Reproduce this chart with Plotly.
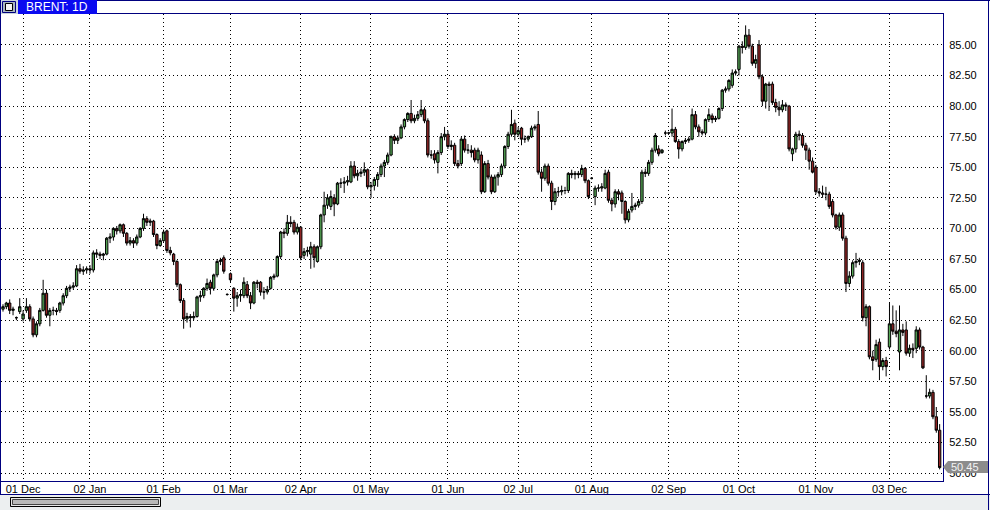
import pandas as pd
import plotly.graph_objects as go

# ---------------- data ----------------
HOLIDAYS = ["2017-12-25", "2018-01-01", "2018-03-30"]
EXTRA_SESSIONS = ["2018-09-02"]

OPEN = [63.4, 63.6, 63.9, 63.3, 62.7, 63.2, 62.6, 63.3, 63.6, 62.6,
        61.3, 62.2, 63.3, 64.7, 62.9, 63.3, 63.3, 63.3, 63.9, 64.5,
        65.1, 65.2, 65.3, 66.7, 66.5, 66.6, 66.7, 66.6, 68.0, 67.9,
        67.8, 67.9, 69.2, 69.3, 70.0, 69.8, 70.3, 69.6, 68.8, 69.0,
        68.8, 69.3, 70.0, 70.8, 70.5, 70.6, 69.5, 68.6, 69.0, 69.8,
        68.2, 67.9, 67.3, 65.4, 64.1, 62.6, 62.8, 62.7, 62.8, 64.4,
        64.5, 65.1, 65.6, 65.1, 66.2, 67.3, 67.6, 64.6, 66.3, 65.1,
        64.3, 64.5, 64.5, 65.4, 64.5, 63.9, 65.6, 65.6, 64.8, 64.8,
        65.1, 66.0, 66.1, 67.7, 69.7, 69.6, 70.5, 70.5, 69.7, 70.1,
        67.8, 68.1, 67.9, 68.5, 67.3, 68.5, 71.1, 71.9, 71.8, 72.5,
        72.0, 73.7, 73.7, 73.8, 73.8, 75.1, 74.3, 74.5, 74.6, 74.8,
        73.4, 73.5, 74.0, 74.4, 75.1, 75.4, 76.0, 77.5, 77.2, 77.4,
        78.3, 78.9, 79.4, 78.8, 79.0, 79.3, 79.7, 78.8, 76.0, 76.1,
        75.4, 76.2, 77.5, 77.7, 76.7, 76.8, 75.3, 75.3, 77.3, 76.4,
        76.4, 76.4, 75.6, 76.0, 73.0, 75.3, 74.2, 73.0, 74.2, 74.4,
        75.1, 76.7, 77.7, 78.6, 77.7, 78.2, 77.3, 77.3, 77.5, 78.2,
        78.5, 74.6, 74.1, 75.1, 73.7, 72.2, 73.0, 73.0, 73.1, 73.1,
        74.5, 74.4, 74.5, 74.4, 74.9, 73.9, 74.1, 72.6, 73.3, 73.3,
        73.3, 74.6, 72.3, 72.0, 73.0, 72.9, 72.2, 70.7, 71.5, 71.8,
        71.9, 72.2, 74.6, 74.5, 75.4, 76.4, 76.5, 76.2, 77.8, 77.8,
        77.8, 78.1, 77.1, 76.5, 77.1, 77.2, 77.3, 79.3, 78.3, 77.9,
        77.8, 78.9, 79.2, 78.9, 79.0, 79.8, 81.3, 81.4, 81.7, 82.7,
        83.0, 84.9, 84.8, 85.8, 84.9, 83.5, 85.0, 82.4, 80.4, 81.8,
        81.8, 80.3, 79.9, 79.7, 80.1, 80.0, 76.1, 76.5, 77.7, 77.6,
        76.8, 76.4, 75.5, 75.0, 73.0, 72.9, 72.8, 72.8, 72.2, 71.1,
        70.1, 71.1, 69.2, 65.5, 66.1, 67.2, 67.3, 67.2, 62.7, 63.6,
        59.5, 59.3, 60.7, 58.7, 59.2, 60.3, 62.2, 61.6, 59.9, 61.7,
        61.7, 59.8, 60.2, 60.2, 61.7, 60.3, 56.3, 56.3, 56.6, 54.6,
        53.5]

HIGH = [63.8, 64.0, 64.2, 63.6, 62.8, 64.3, 63.3, 64.3, 63.8, 62.8,
        62.4, 63.5, 65.8, 65.0, 63.5, 63.6, 63.5, 64.0, 64.7, 65.3,
        65.4, 65.6, 67.0, 67.1, 66.9, 66.9, 67.0, 68.2, 68.3, 68.1,
        68.0, 69.3, 69.6, 70.1, 70.2, 70.4, 70.4, 69.7, 69.3, 69.2,
        69.5, 70.1, 71.2, 71.0, 70.8, 70.7, 69.6, 69.2, 69.9, 69.9,
        68.5, 68.0, 67.4, 65.5, 64.3, 63.1, 63.0, 63.2, 64.5, 64.9,
        65.2, 65.9, 65.8, 66.3, 67.5, 67.6, 67.8, 64.7, 66.4, 65.2,
        64.8, 65.0, 66.0, 65.7, 64.8, 65.7, 65.8, 65.7, 65.2, 65.3,
        66.1, 66.3, 67.8, 69.8, 70.0, 71.1, 71.0, 70.7, 70.4, 70.2,
        68.4, 68.5, 68.9, 68.7, 68.6, 71.2, 73.0, 72.8, 73.1, 72.8,
        73.8, 74.1, 74.2, 74.3, 75.5, 75.5, 74.8, 74.9, 75.4, 74.9,
        73.8, 74.2, 74.6, 75.3, 75.6, 76.2, 77.6, 77.7, 77.6, 78.5,
        79.0, 79.5, 80.5, 79.3, 79.6, 80.5, 79.9, 79.0, 76.4, 76.4,
        76.4, 77.8, 78.3, 78.0, 77.2, 77.0, 75.6, 77.5, 77.6, 76.9,
        76.8, 76.6, 76.6, 76.3, 75.5, 75.6, 74.4, 74.4, 74.6, 75.3,
        76.8, 77.9, 79.7, 78.9, 78.3, 78.3, 77.6, 77.6, 78.4, 78.5,
        79.6, 74.9, 75.3, 75.3, 73.9, 73.3, 73.4, 73.5, 73.4, 74.6,
        74.8, 74.7, 74.7, 75.2, 75.0, 74.0, 74.2, 73.5, 73.6, 73.7,
        74.8, 74.8, 72.5, 73.2, 73.2, 73.1, 72.3, 71.6, 72.9, 72.1,
        72.4, 74.8, 74.9, 75.6, 76.6, 77.8, 76.8, 76.5, 78.0, 77.9,
        79.8, 78.3, 77.3, 77.2, 77.4, 77.5, 79.8, 79.6, 78.5, 78.1,
        79.0, 79.8, 79.4, 79.2, 79.9, 81.4, 81.6, 82.2, 83.0, 83.0,
        85.0, 85.3, 86.6, 86.3, 85.1, 84.2, 85.4, 82.6, 81.9, 82.0,
        82.0, 80.6, 80.4, 80.5, 80.3, 80.1, 76.6, 77.9, 78.0, 77.8,
        77.0, 76.6, 75.8, 75.2, 73.3, 73.5, 73.4, 73.0, 72.4, 71.2,
        71.3, 71.3, 69.4, 66.5, 67.4, 68.0, 67.6, 67.4, 63.8, 63.7,
        60.0, 60.9, 61.0, 59.4, 59.5, 63.9, 63.7, 63.3, 63.7, 62.2,
        62.4, 60.5, 60.6, 62.0, 61.9, 60.4, 58.0, 56.9, 56.8, 55.4,
        54.0]

LOW = [63.2, 63.4, 63.0, 62.9, 62.5, 63.0, 62.4, 63.1, 62.4, 61.1,
       61.1, 62.0, 63.2, 62.7, 62.0, 62.9, 62.9, 63.1, 63.7, 64.3,
       64.8, 65.0, 65.2, 66.3, 66.2, 66.3, 66.3, 66.4, 67.6, 67.5,
       67.4, 67.8, 68.8, 69.0, 69.5, 69.6, 69.3, 68.6, 68.6, 68.4,
       68.6, 69.2, 69.8, 70.2, 70.2, 69.3, 68.3, 68.5, 68.9, 68.0,
       67.8, 67.0, 65.2, 63.9, 61.8, 62.3, 61.9, 62.5, 62.7, 64.0,
       64.3, 64.9, 64.6, 64.9, 66.0, 67.0, 66.3, 64.5, 65.6, 63.2,
       63.6, 64.0, 64.3, 64.3, 63.4, 63.8, 65.1, 64.5, 64.2, 64.6,
       65.0, 65.8, 66.0, 67.5, 69.2, 69.4, 70.1, 69.5, 69.5, 67.4,
       67.5, 67.7, 66.7, 66.8, 67.2, 68.3, 70.5, 71.6, 71.5, 71.0,
       71.9, 73.3, 72.9, 73.5, 73.7, 74.1, 73.9, 74.2, 74.3, 73.2,
       72.5, 73.1, 73.4, 74.2, 74.2, 75.2, 75.9, 76.9, 76.9, 77.3,
       78.1, 78.7, 78.6, 78.6, 78.8, 79.1, 78.6, 75.8, 75.7, 75.3,
       74.5, 76.0, 77.2, 76.5, 76.4, 75.1, 74.9, 75.1, 76.2, 76.1,
       75.8, 75.4, 75.3, 72.8, 72.9, 74.0, 72.8, 72.9, 73.5, 74.2,
       74.9, 76.5, 77.5, 77.2, 77.5, 76.8, 77.0, 77.1, 77.4, 78.0,
       74.4, 73.0, 73.9, 73.5, 71.5, 71.9, 72.6, 72.7, 72.8, 72.9,
       74.1, 74.0, 74.1, 74.2, 73.7, 72.4, 74.0, 71.9, 73.0, 73.0,
       73.2, 72.1, 71.4, 71.7, 72.3, 71.2, 70.4, 70.5, 71.3, 71.5,
       71.7, 72.0, 74.2, 74.3, 75.2, 76.2, 75.9, 76.1, 77.6, 77.7,
       77.5, 77.0, 75.7, 76.3, 76.9, 77.0, 77.2, 78.1, 77.5, 77.6,
       77.6, 78.7, 78.6, 78.7, 78.9, 79.6, 81.1, 81.2, 81.5, 82.5,
       82.5, 84.3, 84.6, 84.7, 83.3, 83.1, 82.2, 80.0, 79.8, 79.6,
       80.1, 79.5, 79.2, 79.5, 79.6, 76.3, 75.5, 76.2, 77.2, 76.6,
       75.6, 74.8, 74.5, 72.8, 72.6, 72.5, 72.3, 71.6, 70.9, 69.9,
       69.8, 69.0, 64.8, 65.2, 65.9, 66.8, 67.0, 62.4, 62.0, 59.3,
       58.4, 59.1, 57.6, 58.4, 57.9, 60.1, 61.3, 61.1, 58.4, 61.2,
       59.6, 59.5, 59.4, 59.8, 60.1, 58.5, 56.1, 56.1, 54.4, 53.3,
       50.3]

CLOSE = [63.6, 63.9, 63.3, 63.4, 62.7, 63.6, 63.0, 63.6, 62.6, 61.3,
         62.2, 63.3, 64.7, 62.9, 63.3, 63.3, 63.2, 63.9, 64.5, 65.1,
         65.2, 65.3, 66.7, 66.5, 66.6, 66.7, 66.6, 68.0, 67.9, 67.8,
         67.9, 69.2, 69.3, 70.0, 69.8, 70.3, 69.6, 68.8, 69.0, 68.8,
         69.3, 70.0, 70.8, 70.5, 70.6, 69.5, 68.6, 69.0, 69.7, 68.2,
         68.0, 67.3, 65.4, 64.1, 62.6, 62.8, 62.7, 62.8, 64.4, 64.5,
         65.1, 65.5, 65.1, 66.2, 67.3, 67.4, 66.5, 64.6, 65.8, 64.3,
         64.5, 64.6, 65.6, 64.5, 63.9, 65.6, 65.5, 64.8, 64.8, 65.0,
         66.0, 66.1, 67.7, 69.7, 69.6, 70.5, 70.4, 69.7, 70.1, 67.6,
         68.1, 68.2, 68.5, 67.6, 68.5, 71.1, 71.9, 72.5, 72.6, 72.0,
         73.7, 73.7, 73.8, 73.9, 75.1, 74.3, 74.5, 74.6, 74.8, 73.4,
         73.5, 74.0, 74.4, 75.1, 75.4, 76.0, 77.5, 77.2, 77.4, 78.3,
         78.9, 79.4, 78.8, 79.0, 79.3, 79.7, 78.8, 76.0, 76.0, 75.6,
         76.2, 77.5, 77.7, 76.7, 76.8, 75.3, 75.1, 77.3, 76.4, 76.4,
         76.2, 75.6, 76.4, 73.0, 75.3, 74.2, 73.0, 74.2, 74.4, 75.1,
         76.7, 77.7, 78.5, 77.7, 78.0, 77.3, 77.3, 77.5, 78.2, 78.3,
         74.6, 74.1, 75.1, 73.7, 72.2, 73.0, 73.0, 73.1, 73.1, 74.5,
         74.4, 74.5, 74.4, 74.9, 73.9, 72.6, 74.1, 73.3, 73.3, 73.4,
         74.5, 72.3, 72.0, 73.0, 72.8, 72.2, 70.7, 71.4, 71.8, 71.9,
         72.2, 74.6, 74.5, 75.4, 76.4, 77.6, 76.1, 76.4, 77.8, 77.8,
         78.1, 77.1, 76.5, 77.1, 77.2, 77.3, 79.3, 78.3, 77.9, 77.8,
         78.9, 79.3, 78.9, 79.0, 79.8, 81.3, 81.4, 82.1, 82.7, 82.8,
         84.9, 84.8, 85.8, 84.9, 83.5, 83.8, 82.4, 80.4, 81.8, 81.7,
         80.3, 79.9, 79.7, 80.1, 80.0, 76.5, 76.5, 77.7, 77.6, 76.8,
         76.4, 75.5, 74.6, 73.0, 72.9, 72.8, 72.8, 71.8, 71.1, 70.1,
         71.1, 69.2, 65.5, 66.1, 67.2, 67.3, 67.4, 62.7, 63.6, 59.5,
         59.2, 60.5, 58.7, 59.2, 58.7, 62.2, 61.6, 61.4, 61.7, 61.5,
         59.8, 60.2, 60.1, 61.7, 60.3, 58.6, 56.3, 56.6, 54.6, 53.5,
         50.45]

TICK_DATES = ["2017-12-01", "2018-01-02", "2018-02-01", "2018-03-01",
              "2018-04-02", "2018-05-01", "2018-06-01", "2018-07-02",
              "2018-08-01", "2018-09-02", "2018-10-01", "2018-11-01",
              "2018-12-03"]
TICK_LABELS = ["01 Dec", "02 Jan", "01 Feb", "01 Mar", "02 Apr", "01 May",
               "01 Jun", "02 Jul", "01 Aug", "02 Sep", "01 Oct", "01 Nov",
               "03 Dec"]
PRICE_TICKS = [50.0, 52.5, 55.0, 57.5, 60.0, 62.5, 65.0, 67.5, 70.0, 72.5,
               75.0, 77.5, 80.0, 82.5, 85.0]
TITLE = "BRENT: 1D"
LAST_PRICE = CLOSE[-1]

# ---------------- trading sessions ----------------
days = pd.bdate_range("2017-11-23", "2018-12-24")
days = days[~days.isin(pd.to_datetime(HOLIDAYS))].union(pd.to_datetime(EXTRA_SESSIONS))
dates = [d.strftime("%Y-%m-%d") for d in days]
assert len(dates) == len(CLOSE) == len(OPEN) == len(HIGH) == len(LOW)

# ---------------- geometry helpers ----------------
W, H = 990, 510
L_PX, R_PX, T_PX, B_PX = 1, 943, 14, 481


def px(x):
    return (x - L_PX) / (R_PX - L_PX)


def py(y):
    return (B_PX - y) / (B_PX - T_PX)


FONT = "Liberation Sans, Arial, sans-serif"
NAVY = "#00007f"

fig = go.Figure()
fig.add_trace(go.Candlestick(
    x=dates, open=OPEN, high=HIGH, low=LOW, close=CLOSE,
    increasing=dict(line=dict(color="black", width=1), fillcolor="#55a655"),
    decreasing=dict(line=dict(color="black", width=1), fillcolor="#962626"),
    whiskerwidth=0, showlegend=False, hoverinfo="skip",
))

shapes = []
# bottom scroll strip
shapes.append(dict(type="rect", xref="paper", yref="paper", x0=px(0), x1=px(990),
                   y0=py(510), y1=py(494.5), fillcolor="#eceff0", line=dict(width=0), layer="below"))
shapes.append(dict(type="line", xref="paper", yref="paper", x0=px(0), x1=px(990),
                   y0=py(494.5), y1=py(494.5), line=dict(color=NAVY, width=1)))
shapes.append(dict(type="rect", xref="paper", yref="paper", x0=px(10.5), x1=px(160.5),
                   y0=py(506.5), y1=py(497.5), fillcolor="#e6e6e6", line=dict(color="black", width=1)))
shapes.append(dict(type="rect", xref="paper", yref="paper", x0=px(12.5), x1=px(158.5),
                   y0=py(504.5), y1=py(499.5), fillcolor="#b9b9b9", line=dict(color="#444", width=1)))
# top bar
shapes.append(dict(type="line", xref="paper", yref="paper", x0=px(0), x1=px(990),
                   y0=py(0.5), y1=py(0.5), line=dict(color=NAVY, width=1)))
shapes.append(dict(type="rect", xref="paper", yref="paper", x0=px(18), x1=px(97),
                   y0=py(14), y1=py(0), fillcolor="#0a0af0", line=dict(width=0)))
shapes.append(dict(type="rect", xref="paper", yref="paper", x0=px(0), x1=px(18),
                   y0=py(14), y1=py(0), fillcolor="#c9d3dc", line=dict(width=0)))
shapes.append(dict(type="rect", xref="paper", yref="paper", x0=px(2.5), x1=px(15.5),
                   y0=py(12.5), y1=py(1.5), fillcolor="#aab6c2", line=dict(color=NAVY, width=1)))
shapes.append(dict(type="rect", xref="paper", yref="paper", x0=px(5.5), x1=px(12.5),
                   y0=py(10.5), y1=py(3.5), fillcolor="#f4f4f4", line=dict(color="black", width=1)))
# window borders
shapes.append(dict(type="line", xref="paper", yref="paper", x0=px(0.5), x1=px(0.5),
                   y0=py(0), y1=py(494.5), line=dict(color=NAVY, width=1)))
shapes.append(dict(type="line", xref="paper", yref="paper", x0=px(988.5), x1=px(988.5),
                   y0=py(0), y1=py(510), line=dict(color=NAVY, width=1)))
# last price tag
shapes.append(dict(type="path", xref="paper", yref="paper",
                   path=f"M {px(943)} {py(467)} L {px(948)} {py(461)} L {px(988)} {py(461)} "
                        f"L {px(988)} {py(473)} L {px(948)} {py(473)} Z",
                   fillcolor="#8c8c8c", line=dict(width=0), layer="above"))

annotations = [
    dict(text=TITLE, xref="paper", yref="paper", x=px(24), y=py(7.5), xanchor="left",
         yanchor="middle", showarrow=False, font=dict(family=FONT, size=12, color="white")),
    dict(text=f"{LAST_PRICE:.2f}", xref="paper", yref="paper", x=px(949), y=py(467),
         xanchor="left", yanchor="middle", showarrow=False,
         font=dict(family=FONT, size=11, color="#f4f4f4")),
]

grid = dict(showgrid=True, gridcolor="#000000", gridwidth=1, griddash="1px,3px",
            showline=True, mirror=True, linecolor=NAVY, linewidth=1, ticks="",
            zeroline=False, fixedrange=True,
            tickfont=dict(family=FONT, size=11, color="black"))

fig.update_layout(
    width=W, height=H,
    margin=dict(l=L_PX, r=W - R_PX, t=T_PX, b=H - B_PX, autoexpand=False),
    paper_bgcolor="white", plot_bgcolor="white",
    boxgap=0.0,
    xaxis=dict(type="category", range=[-0.6, 281.0], tickmode="array",
               tickvals=TICK_DATES, ticktext=TICK_LABELS, ticklabelstandoff=-2,
               rangeslider=dict(visible=False), **grid),
    yaxis=dict(side="right", range=[49.35, 87.53], tickmode="array",
               tickvals=PRICE_TICKS, tickformat=".2f", ticklabelstandoff=3, **grid),
    shapes=shapes, annotations=annotations,
    showlegend=False,
)

fig.write_html("out.html", config={"displayModeBar": False, "staticPlot": True},
               post_script="document.body.style.margin='0px';document.body.style.overflow='hidden';")
